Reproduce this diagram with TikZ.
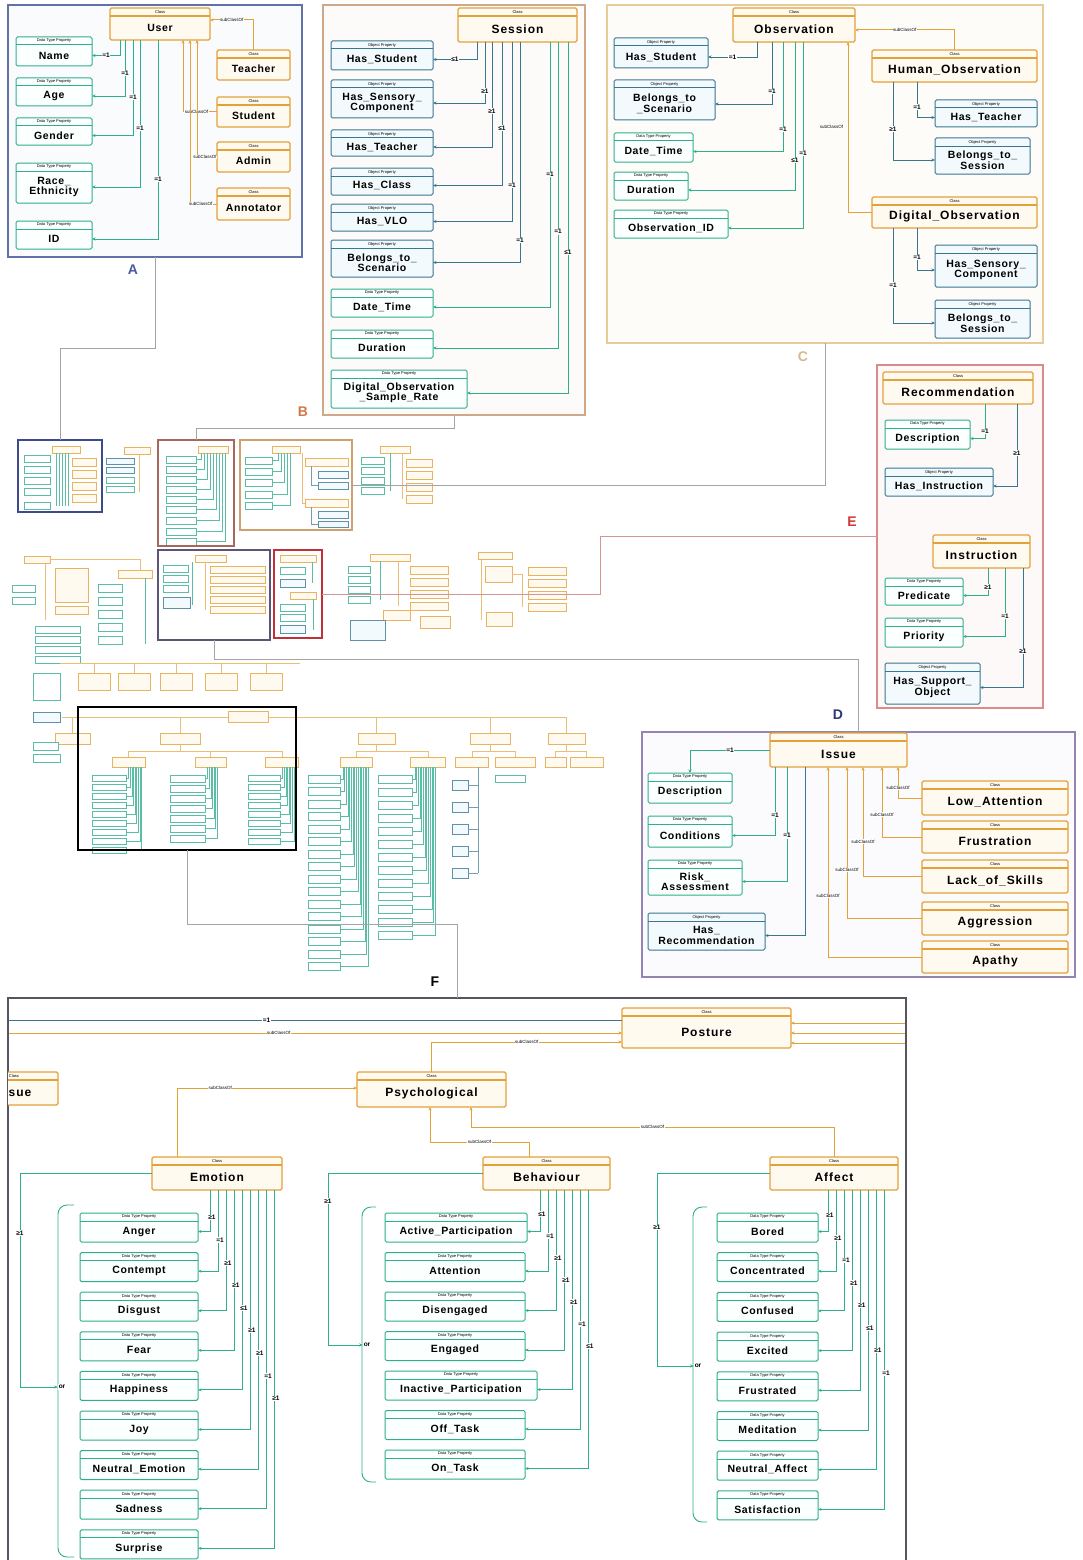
\documentclass[tikz,border=0pt]{standalone}
\usepackage{fontspec}
\setmainfont{Liberation Sans}
\usetikzlibrary{arrows.meta,calc,positioning}

\definecolor{clsline}{HTML}{E3A13A}
\definecolor{clsfill}{HTML}{FFFAF0}
\definecolor{dpline}{HTML}{2FAE8E}
\definecolor{dpfill}{HTML}{FBFFFD}
\definecolor{opline}{HTML}{3A7690}
\definecolor{opfill}{HTML}{F3FAFD}
\definecolor{frA}{HTML}{6272A8}
\definecolor{frB}{HTML}{CFA88A}
\definecolor{frC}{HTML}{E8CC98}
\definecolor{frE}{HTML}{DC8C88}
\definecolor{frD}{HTML}{9484B2}
\definecolor{frF}{HTML}{55555F}
\definecolor{ovAc}{HTML}{3D4A8C}
\definecolor{ovBc}{HTML}{A8675C}
\definecolor{ovCc}{HTML}{D0A070}
\definecolor{ovDc}{HTML}{5E5478}
\definecolor{ovEc}{HTML}{C0303A}
\definecolor{linkc}{HTML}{A4A4A4}
\definecolor{linkE}{HTML}{D89494}
\definecolor{labA}{HTML}{4A5C9E}
\definecolor{labB}{HTML}{D2784A}
\definecolor{labC}{HTML}{D9B98C}
\definecolor{labE}{HTML}{D23A3A}
\definecolor{labD}{HTML}{2C3872}

\tikzset{
  frame/.style={anchor=north west, inner sep=0pt, outer sep=0pt, line width=1.3pt},
  ovframe/.style={anchor=north west, inner sep=0pt, outer sep=0pt, line width=1.7pt},
  cls/.style={draw=clsline, fill=clsfill, line width=1.2pt, rounded corners=1.5pt},
  dp/.style={draw=dpline, fill=dpfill, line width=1pt, rounded corners=1.5pt},
  op/.style={draw=opline, fill=opfill, line width=1pt, rounded corners=1.5pt},
  hdr/.style={font=\fontsize{4}{4}\selectfont, inner sep=0pt},
  cls name/.style={font=\fontsize{12}{13}\selectfont\bfseries\addfontfeature{LetterSpace=8}, inner sep=0pt, align=center},
  dp name/.style={font=\fontsize{10.5}{10.5}\selectfont\bfseries\addfontfeature{LetterSpace=6}, inner sep=0pt, align=center},
  op name/.style={dp name},
  card/.style={font=\fontsize{6.5}{6.5}\selectfont\bfseries, inner sep=0.6pt, fill=white},
  sub/.style={font=\fontsize{4.5}{4.5}\selectfont, inner sep=0.5pt, fill=white},
  dpl/.style={draw=dpline, line width=0.9pt, -{Stealth[length=3.5pt,width=3pt]}},
  opl/.style={draw=opline, line width=0.9pt, -{Stealth[length=3.5pt,width=3pt]}},
  subl/.style={draw=clsline, line width=1pt, -{Stealth[length=3.5pt,width=3pt]}},
  link/.style={draw=linkc, line width=0.9pt},
  plab/.style={font=\fontsize{14}{14}\selectfont\bfseries, inner sep=0pt},
  ortxt/.style={font=\fontsize{6.5}{6.5}\selectfont\bfseries, inner sep=0.8pt, fill=white},
  brace/.style={draw=dpline, line width=0.9pt, rounded corners=9pt},
  thc/.style={draw=clsline!80, fill=clsfill, line width=0.5pt},
  thd/.style={draw=dpline!80, fill=white, line width=0.5pt},
  tho/.style={draw=opline!80, fill=opfill, line width=0.5pt},
  thcl/.style={draw=clsline!70, line width=0.4pt},
  thdl/.style={draw=dpline!80, line width=0.4pt},
  thol/.style={draw=opline!70, line width=0.4pt}
}

\newcommand{\obox}[8]{%
  \node[#2, anchor=north west, inner sep=0pt, outer sep=0pt,
        minimum width={(#5-(#3))*1pt}, minimum height={(#6-(#4))*1pt}] (#1) at (#3,#4) {};
  \draw[#2] ([yshift=-8]#1.north west) -- ([yshift=-8]#1.north east);
  \node[hdr] (#1-h) at ([yshift=-4]#1.north) {#7};
  \node[#2 name] (#1-t) at ($([yshift=-8]#1.north)!0.5!(#1.south)$) {#8};
}
\newcommand{\clsbox}[6]{\obox{#1}{cls}{#2}{#3}{#4}{#5}{Class}{#6}}
\newcommand{\dpbox}[6]{\obox{#1}{dp}{#2}{#3}{#4}{#5}{Data Type Property}{#6}}
\newcommand{\opbox}[6]{\obox{#1}{op}{#2}{#3}{#4}{#5}{Object Property}{#6}}
\newcommand{\thumb}[5]{\draw[#5] (#1,#2) rectangle (#3,#4);}

\begin{document}
\begin{tikzpicture}[x=1pt, y=-1pt]
\useasboundingbox (0,0) rectangle (1083,1560);
\fill[white] (0,0) rectangle (1083,1560);

% overview
\thumb{52}{446}{80}{453}{thc}
\foreach \yy in {455,466,477,488,502} \thumb{24}{\yy}{50}{\yy+7}{thd}
\foreach \yy in {458,470,482,494} \thumb{72}{\yy}{96}{\yy+8}{thc}
\foreach \xx in {56,59,62,65,68} \draw[thdl] (\xx,453) -- (\xx,506);
\thumb{124}{447}{150}{454}{thc}
\foreach \yy in {458,467} \thumb{106}{\yy}{134}{\yy+6}{tho}
\foreach \yy in {477,486} \thumb{106}{\yy}{134}{\yy+6}{thd}
\draw[thcl] (139,454) -- (139,492);
\thumb{198}{446}{228}{453}{thc}
\foreach \yy [count=\i] in {456,466,476,486,496,506,517,528,538} {
  \thumb{166}{\yy}{196}{\yy+7}{thd}
  \draw[thdl] (196,\yy+3.5) -| (198+3*\i,453);
}
\thumb{272}{446}{300}{453}{thc}
\foreach \yy [count=\i] in {457,468,479,491,502} {
  \thumb{245}{\yy}{272}{\yy+7}{thd}
  \draw[thdl] (272,\yy+3.5) -| (275+3*\i,453);
}
\thumb{305}{458}{348}{466}{thc} \thumb{318}{471}{348}{478}{tho} \thumb{318}{482}{348}{489}{tho}
\thumb{305}{499}{348}{507}{thc} \thumb{318}{511}{348}{518}{tho} \thumb{318}{521}{348}{527}{tho}
\draw[thcl] (302,453) |- (305,503); \draw[thol] (311,466) |- (318,485); \draw[thol] (311,507) |- (318,524);
\thumb{380}{446}{410}{453}{thc}
\foreach \yy in {457,467,477,487} \thumb{361}{\yy}{384}{\yy+7}{thd}
\foreach \yy in {459,471,483,495} \thumb{406}{\yy}{432}{\yy+8}{thc}
\draw[thcl] (402,453) -- (402,499); \draw[thdl] (390,453) -- (390,491);
\thumb{24}{556}{50}{563}{thc}
\thumb{12}{585}{35}{592}{thd} \thumb{12}{597}{35}{604}{thd}
\thumb{55}{568}{88}{602}{thc} \thumb{55}{606}{88}{614}{thc}
\foreach \yy in {626,636,646,656} \thumb{35}{\yy}{80}{\yy+7}{thd}
\draw[thcl] (50,559) -- (140,559) -- (140,570); \draw[thcl] (45,563) -- (45,620);
\thumb{118}{570}{152}{578}{thc}
\foreach \yy in {584,597,610,623,636} \thumb{98}{\yy}{122}{\yy+8}{thd}
\draw[thdl] (145,578) -- (145,644);
\thumb{195}{555}{226}{562}{thc}
\foreach \yy in {565,575,585} \thumb{163}{\yy}{188}{\yy+7}{thd}
\thumb{163}{597}{190}{608}{tho}
\foreach \yy in {566,576,586,596,606} \thumb{210}{\yy}{265}{\yy+7}{thc}
\draw[thcl] (205,562) -- (205,610); \draw[thdl] (192,562) -- (192,605);
\thumb{280}{555}{316}{562}{thc}
\thumb{280}{567}{305}{574}{thd} \thumb{280}{579}{305}{587}{tho}
\thumb{290}{592}{316}{599}{thc}
\thumb{280}{604}{305}{611}{thd} \thumb{280}{614}{305}{621}{thd} \thumb{280}{625}{305}{633}{tho}
\draw[thdl] (312,562) -- (312,583); \draw[thdl] (313,599) -- (313,630);
\thumb{370}{554}{410}{561}{thc}
\foreach \yy in {566,576,586,596} \thumb{348}{\yy}{370}{\yy+7}{thd}
\foreach \yy in {566,578,590,602} \thumb{410}{\yy}{448}{\yy+8}{thc}
\draw[thdl] (380,561) -- (380,600); \draw[thcl] (398,561) -- (398,606);
\thumb{383}{610}{410}{620}{thc} \thumb{350}{620}{385}{640}{tho} \thumb{420}{616}{450}{628}{thc}
\thumb{478}{552}{512}{559}{thc} \thumb{485}{566}{512}{582}{thc}
\foreach \yy in {567,579,591,603} \thumb{528}{\yy}{566}{\yy+8}{thc}
\thumb{486}{612}{512}{626}{thc}
\draw[thcl] (481,559) -- (481,620); \draw[thcl] (512,574) -| (522,607);
\draw[thcl] (60,663) -- (300,663);
\foreach \xa in {78,118,160,205,250} {\thumb{\xa}{673}{\xa+32}{690}{thc} \draw[thcl] (\xa+16,663) -- (\xa+16,673);}
\thumb{33}{673}{60}{700}{thd}
\draw[thcl] (62,717) -- (566,717);
\thumb{228}{711}{268}{722}{thc}
\foreach \xa/\xb in {55/90,160/200,358/395,470/510,548/585} {\thumb{\xa}{733}{\xb}{744}{thc} \draw[thcl] ({(\xa+\xb)/2},717) -- ({(\xa+\xb)/2},733);}
\foreach \xa/\xb in {112/145,195/226,265/298,340/372,410/445,455/488,495/535,545/566,570/603} \thumb{\xa}{757}{\xb}{767}{thc}
\draw[thcl] (180,744) -- (180,751); \draw[thcl] (128,751) -- (282,751);
\draw[thcl] (376,744) -- (376,751); \draw[thcl] (356,751) -- (428,751);
\draw[thcl] (490,744) -- (490,751); \draw[thcl] (472,751) -- (515,751);
\draw[thcl] (566,744) -- (566,751); \draw[thcl] (555,751) -- (586,751);
\foreach \xs in {128,210,282,356,428,472,515,555,586} \draw[thcl] (\xs,751) -- (\xs,757);
\foreach \yy [count=\i] in {775,784,...,847} {\thumb{92}{\yy}{126}{\yy+6}{thd} \draw[thdl] (126,\yy+3) -| (127+1.6*\i,767);}
\foreach \yy [count=\i] in {775,785,...,835} {\thumb{170}{\yy}{205}{\yy+7}{thd} \draw[thdl] (205,\yy+3) -| (206+1.6*\i,767);}
\foreach \yy [count=\i] in {775,784,...,838} {\thumb{248}{\yy}{280}{\yy+6}{thd} \draw[thdl] (280,\yy+3) -| (281+1.6*\i,767);}
\foreach \yy [count=\i] in {775,787.5,...,963} {\thumb{308}{\yy}{340}{\yy+8}{thd} \draw[thdl] (340,\yy+4) -| (341+1.7*\i,767);}
\foreach \yy [count=\i] in {775,788,...,931} {\thumb{378}{\yy}{412}{\yy+8}{thd} \draw[thdl] (412,\yy+4) -| (413+1.7*\i,767);}
\foreach \yy in {780,802,...,868} {\thumb{452}{\yy}{468}{\yy+10}{tho} \draw[thol] (468,\yy+5) -- (478,\yy+5);}
\draw[thol] (478,767) -- (478,873);
\thumb{495}{775}{525}{782}{thd}
\thumb{33}{712}{60}{722}{tho} \thumb{33}{742}{58}{750}{thd} \thumb{33}{754}{60}{762}{thd}

\node[ovframe, draw=ovAc, minimum width=84pt, minimum height=72pt] (ovA) at (18,440) {};
\node[ovframe, draw=ovBc, minimum width=76pt, minimum height=106pt] (ovB) at (158,440) {};
\node[ovframe, draw=ovCc, minimum width=112pt, minimum height=90pt] (ovC) at (240,440) {};
\node[ovframe, draw=ovDc, minimum width=112pt, minimum height=90pt] (ovD) at (158,550) {};
\node[ovframe, draw=ovEc, minimum width=48pt, minimum height=88pt] (ovE) at (274,550) {};
\node[ovframe, draw=black, minimum width=218pt, minimum height=143pt] (ovF) at (78,707) {};

% panels
\node[frame, draw=frA, fill=frA!3, minimum width=294pt, minimum height=252pt] (panA) at (8,5) {};
\node[frame, draw=frB, fill=frB!5, minimum width=262pt, minimum height=410pt] (panB) at (323,5) {};
\node[frame, draw=frC, fill=frC!6, minimum width=436pt, minimum height=338pt] (panC) at (607,5) {};
\node[frame, draw=frE, fill=frE!5, minimum width=166pt, minimum height=343pt] (panE) at (877,365) {};
\node[frame, draw=frD, fill=frD!4, minimum width=433pt, minimum height=245pt] (panD) at (642,732) {};
\node[frame, draw=frF, fill=white, line width=1.8pt, minimum width=898pt, minimum height=580pt] (panF) at (8,998) {};

\node[plab, text=labA] (labA) at (133,270) {A};
\node[plab, text=labB] (labB) at (303,412) {B};
\node[plab, text=labC] (labC) at (803,357) {C};
\node[plab, text=labE] (labE) at (852,522) {E};
\node[plab, text=labD] (labD) at (838,715) {D};
\node[plab, text=black] (labF) at (435,982) {F};

\draw[link] (panA.south) -- ++(0,91) -| (ovA.north);
\draw[link] (panB.south) -- ++(0,13) -| (ovB.north);
\draw[link] (panC.south) |- (ovC.east);
\draw[link, draw=linkE] (ovE.east) -- (600,594) |- (panE.west);
\draw[link] (ovD.south) -- ++(0,19) -| (panD.north);
\draw[link] (ovF.south) -- ++(0,74) -| (panF.north);

% A
\begin{scope}[cls name/.style={font=\fontsize{10.5}{11}\selectfont\bfseries\addfontfeature{LetterSpace=6}, inner sep=0pt, align=center}]
\clsbox{user}{110}{8}{210}{40}{User}
\clsbox{teacher}{217}{50}{290}{80}{Teacher}
\clsbox{student}{217}{97}{290}{127}{Student}
\clsbox{admin}{217}{142}{290}{172}{Admin}
\clsbox{annot}{217}{188}{290}{220}{Annotator}
\end{scope}
\dpbox{name}{16}{37}{92}{66}{Name}
\dpbox{age}{16}{78}{92}{106}{Age}
\dpbox{gender}{16}{118}{92}{145}{Gender}
\dpbox{race}{16}{163}{92}{203}{Race\_\\Ethnicity}
\dpbox{uid}{16}{221}{92}{249}{ID}
\foreach \nm/\dx/\p in {name/10/0.75, age/15/0.3, gender/23/0.3, race/30/0.3, uid/48/0.35}
  \draw[dpl] ([xshift=\dx]user.south west) |- (\nm-t -| \nm.east) node[card, pos=\p] {=1};
\draw[subl] (teacher.north) |- ([yshift=-12]user.north east) node[sub, pos=0.75] {subClassOf};
\foreach \nm/\dx in {student/73, admin/87, annot/80}
  \draw[subl] (\nm.west) -| ([xshift=\dx]user.south west) node[sub, pos=0.3] {subClassOf};

% B
\clsbox{session}{458}{8}{577}{42}{Session}
\opbox{hstud}{331}{41}{433}{70}{Has\_Student}
\opbox{hsens}{331}{80}{433}{118}{Has\_Sensory\_\\Component}
\opbox{hteach}{331}{130}{433}{156}{Has\_Teacher}
\opbox{hclass}{331}{168}{433}{195}{Has\_Class}
\opbox{hvlo}{331}{204}{433}{231}{Has\_VLO}
\opbox{bscen}{331}{240}{433}{277}{Belongs\_to\_\\Scenario}
\dpbox{sdate}{331}{289}{433}{317}{Date\_Time}
\dpbox{sdur}{331}{330}{433}{358}{Duration}
\dpbox{srate}{331}{370}{467}{408}{Digital\_Observation\\\_Sample\_Rate}
\foreach \nm/\dx/\st/\c/\p in {hstud/19/opl/≤1/0.75, hsens/27/opl/≥1/0.4, hteach/34/opl/≥1/0.33, hclass/44/opl/≤1/0.3, hvlo/54/opl/=1/0.4, bscen/62/opl/=1/0.45, sdate/92/dpl/=1/0.25, sdur/100/dpl/=1/0.31, srate/110/dpl/≤1/0.3}
  \draw[\st] ([xshift=\dx]session.south west) |- (\nm-t -| \nm.east) node[card, pos=\p] {\c};

% C
\clsbox{obs}{733}{8}{855}{42}{Observation}
\opbox{ostud}{614}{38}{708}{68}{Has\_Student}
\opbox{oscen}{614}{80}{715}{120}{Belongs\_to\\\_Scenario}
\dpbox{odate}{614}{133}{693}{162}{Date\_Time}
\dpbox{odur}{614}{172}{688}{200}{Duration}
\dpbox{oid}{614}{210}{728}{238}{Observation\_ID}
\clsbox{hobs}{872}{50}{1037}{82}{Human\_Observation}
\opbox{hoteach}{935}{100}{1037}{127}{Has\_Teacher}
\opbox{hosess}{935}{138}{1030}{174}{Belongs\_to\_\\Session}
\clsbox{dobs}{872}{197}{1037}{228}{Digital\_Observation}
\opbox{dosens}{935}{245}{1037}{287}{Has\_Sensory\_\\Component}
\opbox{dosess}{935}{300}{1030}{338}{Belongs\_to\_\\Session}
\foreach \nm/\dx/\st/\c/\p in {ostud/24/opl/=1/0.75, oscen/39/opl/=1/0.4, odate/50/dpl/=1/0.4, odur/62/dpl/≤1/0.4, oid/70/dpl/=1/0.3}
  \draw[\st] ([xshift=\dx]obs.south west) |- (\nm-t -| \nm.east) node[card, pos=\p] {\c};
\draw[subl] (hobs.north) |- ([yshift=-22]obs.north east) node[sub, pos=0.75] {subClassOf};
\draw[subl] (dobs.west) -| ([xshift=115]obs.south west) node[sub, pos=0.75, left=4pt] {subClassOf};
\draw[opl] ([xshift=45]hobs.south west) |- (hoteach-t -| hoteach.west) node[card, pos=0.35] {=1};
\draw[opl] ([xshift=21]hobs.south west) |- (hosess-t -| hosess.west) node[card, pos=0.3] {≥1};
\draw[opl] ([xshift=45]dobs.south west) |- (dosens-t -| dosens.west) node[card, pos=0.35] {=1};
\draw[opl] ([xshift=21]dobs.south west) |- (dosess-t -| dosess.west) node[card, pos=0.3] {=1};

% E
\clsbox{rec}{883}{372}{1033}{404}{Recommendation}
\dpbox{rdesc}{885}{420}{970}{449}{Description}
\opbox{rinst}{885}{468}{993}{496}{Has\_Instruction}
\clsbox{inst}{933}{535}{1030}{568}{Instruction}
\dpbox{ipred}{885}{578}{963}{605}{Predicate}
\dpbox{iprio}{885}{618}{963}{647}{Priority}
\opbox{isupp}{885}{663}{980}{704}{Has\_Support\_\\Object}
\draw[dpl] ([xshift=102]rec.south west) |- (rdesc-t -| rdesc.east) node[card, pos=0.4] {=1};
\draw[opl] ([xshift=134]rec.south west) |- (rinst-t -| rinst.east) node[card, pos=0.3] {≥1};
\foreach \nm/\dx/\st/\c in {ipred/55/dpl/≥1, iprio/72/dpl/=1, isupp/90/opl/≥1}
  \draw[\st] ([xshift=\dx]inst.south west) |- (\nm-t -| \nm.east) node[card, pos=0.35] {\c};

% D
\clsbox{issue}{770}{733}{907}{767}{Issue}
\dpbox{idesc}{648}{773}{732}{803}{Description}
\dpbox{icond}{648}{816}{732}{847}{Conditions}
\dpbox{irisk}{648}{860}{742}{895}{Risk\_\\Assessment}
\opbox{irec}{648}{913}{765}{950}{Has\_\\Recommendation}
\clsbox{lowatt}{922}{781}{1068}{815}{Low\_Attention}
\clsbox{frust}{922}{821}{1068}{853}{Frustration}
\clsbox{lack}{922}{860}{1068}{893}{Lack\_of\_Skills}
\clsbox{aggr}{922}{902}{1068}{935}{Aggression}
\clsbox{apathy}{922}{941}{1068}{973}{Apathy}
\draw[dpl] ([yshift=-17]issue.north west) -| (idesc.north) node[card, pos=0.25] {=1};
\draw[dpl] ([xshift=5]issue.south west) |- (icond-t -| icond.east) node[card, pos=0.35] {=1};
\draw[dpl] ([xshift=17]issue.south west) |- (irisk-t -| irisk.east) node[card, pos=0.3] {=1};
\draw[opl] ([xshift=35]issue.south west) |- (irec-t -| irec.east);
\foreach \nm/\dx in {lowatt/128, frust/112, lack/93, aggr/77, apathy/58}
  \draw[subl] (\nm.west) -| ([xshift=\dx]issue.south west) node[sub, pos=0.66] {subClassOf};

% F
\begin{scope}
\clip (8,1000) rectangle (120,1120);
\clsbox{issuef}{-30}{1072}{58}{1105}{Issue}
\end{scope}
\clsbox{posture}{622}{1008}{791}{1048}{Posture}
\clsbox{psych}{357}{1072}{506}{1107}{Psychological}
\clsbox{emotion}{152}{1157}{282}{1190}{Emotion}
\clsbox{behav}{483}{1157}{610}{1190}{Behaviour}
\clsbox{affect}{770}{1157}{898}{1190}{Affect}
\coordinate (fl1) at (9,1020);
\coordinate (fl2) at (9,1033);
\draw[opl, -] (fl1) -- (fl1 -| posture.west) node[card, pos=0.42] {=1};
\draw[subl] (fl2) -- (fl2 -| posture.west) node[sub, pos=0.44] {subClassOf};
\foreach \yy in {1023,1033,1043} {
  \coordinate (pr) at (905,\yy);
  \draw[subl] (pr) -- (pr -| posture.east);
}
\draw[subl] (psych.north) |- ([yshift=-34]posture.north west) node[sub, pos=0.75] {subClassOf};
\draw[subl] ([xshift=25]emotion.north west) |- ([yshift=-16]psych.north west) node[sub, pos=0.62] {subClassOf};
\draw[subl] ([xshift=46]behav.north west) -- ++(0,-15) -| ([xshift=73]psych.south west) node[sub, pos=0.25] {subClassOf};
\draw[subl] ([xshift=64]affect.north west) -- ++(0,-30) -| ([xshift=114]psych.south west) node[sub, pos=0.25] {subClassOf};

\foreach \nm/\lab/\c [count=\i] in {anger/Anger/≥1, contempt/Contempt/=1, disgust/Disgust/≥1, fear/Fear/≥1, happy/Happiness/≤1, joy/Joy/≥1, neutemo/Neutral\_Emotion/≥1, sad/Sadness/=1, surprise/Surprise/≥1} {
  \pgfmathsetmacro\yy{1213+39.6*(\i-1)}
  \dpbox{\nm}{80}{\yy}{198}{\yy+29}{\lab}
  \draw[dpl] ([xshift=50+8*\i]emotion.south west) |- (\nm-t -| \nm.east);
  \node[card] (\nm-c) at ([xshift=52+8*\i, yshift=-5-22.6*\i]emotion.south west) {\c};
}
\foreach \nm/\lab/\w/\c [count=\i] in {actp/Active\_Participation/527/≤1, atten/Attention/525/=1, diseng/Disengaged/525/≥1, engag/Engaged/525/≥1, inact/Inactive\_Participation/537/≥1, offt/Off\_Task/525/=1, ont/On\_Task/525/≤1} {
  \pgfmathsetmacro\yy{1213+39.5*(\i-1)}
  \dpbox{\nm}{385}{\yy}{\w}{\yy+29}{\lab}
  \draw[dpl] ([xshift=49+8*\i]behav.south west) |- (\nm-t -| \nm.east);
  \node[card] (\nm-c) at ([xshift=51+8*\i, yshift=-2-22*\i]behav.south west) {\c};
}
\foreach \nm/\lab/\c [count=\i] in {bored/Bored/≥1, concen/Concentrated/≥1, confus/Confused/=1, excit/Excited/≥1, frusd/Frustrated/≥1, medit/Meditation/≤1, neutaff/Neutral\_Affect/≥1, satis/Satisfaction/=1} {
  \pgfmathsetmacro\yy{1213+39.7*(\i-1)}
  \dpbox{\nm}{717}{\yy}{818}{\yy+29}{\lab}
  \draw[dpl] ([xshift=50+8*\i]affect.south west) |- (\nm-t -| \nm.east);
  \node[card] (\nm-c) at ([xshift=52+8*\i, yshift=-3-22.5*\i]affect.south west) {\c};
}

\draw[brace] (74,1205) -| (58,1557) -- (74,1557);
\draw[brace] (376,1207) -| (362,1482) -- (376,1482);
\draw[brace] (707,1207) -| (693,1522) -- (707,1522);
\node[ortxt] (oremo) at (62,1387) {or};
\node[ortxt] (orbeh) at (367,1345) {or};
\node[ortxt] (oraff) at (698,1366) {or};
\draw[dpl] (emotion.west) -- ++(-132,0) |- (oremo.west) node[card, pos=0.14] {≥1};
\draw[dpl] (behav.west) -- ++(-155,0) |- (orbeh.west) node[card, pos=0.08] {≥1};
\draw[dpl] (affect.west) -- ++(-113,0) |- (oraff.west) node[card, pos=0.14] {≥1};
\end{tikzpicture}
\end{document}
